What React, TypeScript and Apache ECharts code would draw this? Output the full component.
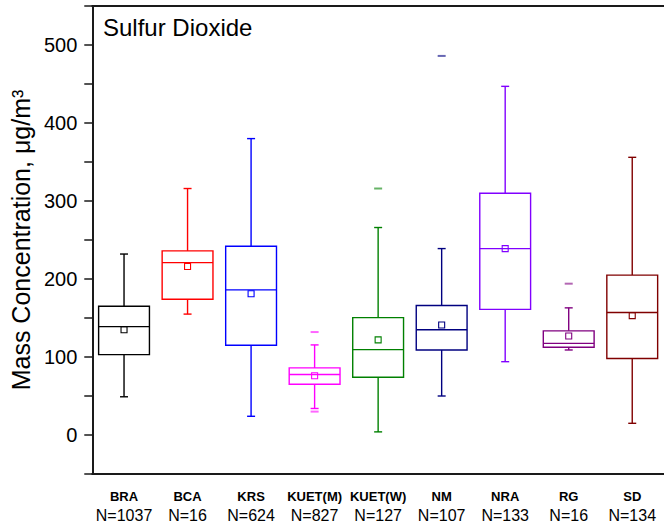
import React, { useEffect, useRef } from "react";
import * as echarts from "echarts";

const categories = ["BRA", "BCA", "KRS", "KUET(M)", "KUET(W)", "NM", "NRA", "RG", "SD"];
const sampleSizes = [1037, 16, 624, 827, 127, 107, 133, 16, 134];
const whiskerLow = [49, 155, 24, 34, 4, 50, 94, 109, 15];
const q1 = [103, 174, 115, 65, 74, 109, 161, 112.5, 98];
const median = [139, 221, 186, 77.5, 109.5, 135, 239, 117.5, 157];
const q3 = [165, 236, 242, 86, 150.5, 166, 310, 133.5, 205];
const whiskerHigh = [232, 316, 380, 115.5, 266, 239, 447, 163, 356];
const means = [135, 216, 181, 76, 122, 141, 239, 127, 153];
const outlierCategory = [3, 3, 4, 5, 7];
const outlierValue = [132, 30, 316, 486, 194];
const colors = ["#000000", "#ff0000", "#0000ff", "#ff00ff", "#008000", "#000080", "#8000ff", "#800080", "#800000"];

const FONT = "'Liberation Sans', Arial, sans-serif";

export default function App() {
  const ref = useRef<HTMLDivElement>(null);
  useEffect(() => {
    if (!ref.current) return;
    const chart = echarts.init(ref.current, null, { renderer: "svg" });
    const boxData = categories.map((_, i) => [i, whiskerLow[i], q1[i], median[i], q3[i], whiskerHigh[i], means[i]]);
    const outlierData = outlierCategory.map((c, k) => ({
      value: [c, outlierValue[k]],
      itemStyle: { color: colors[c], opacity: 0.6 },
    }));
    const option: any = {
      animation: false,
      textStyle: { fontFamily: FONT },
      title: {
        text: "Sulfur Dioxide",
        left: 98,
        top: 10,
        textStyle: { fontSize: 24, fontWeight: "normal", color: "#000", fontFamily: FONT },
      },
      grid: { left: 89, top: 6, width: 582, height: 468 },
      xAxis: [
        {
          type: "category",
          data: categories,
          position: "bottom",
          boundaryGap: true,
          axisLine: { onZero: false, lineStyle: { color: "#1a1a1a", width: 2 } },
          axisTick: { alignWithLabel: true, length: 8, inside: false, lineStyle: { color: "#1a1a1a", width: 1.5 } },
          splitLine: { show: false },
          axisLabel: {
            interval: 0,
            margin: 14,
            formatter: (v: string, idx: number) => `{a|${v}}\n{b|N=${sampleSizes[idx]}}`,
            rich: {
              a: { fontSize: 13, fontWeight: "bold", color: "#000", lineHeight: 16, fontFamily: FONT },
              b: { fontSize: 16, color: "#000", lineHeight: 22, fontFamily: FONT },
            },
          },
        },
        {
          type: "category",
          data: categories,
          position: "top",
          axisLine: { onZero: false, lineStyle: { color: "#1a1a1a", width: 2 } },
          axisTick: { show: false },
          axisLabel: { show: false },
          splitLine: { show: false },
        },
      ],
      yAxis: {
        type: "value",
        min: -50,
        max: 550,
        interval: 50,
        name: "Mass Concentration, μg/m³",
        nameLocation: "middle",
        nameGap: 51,
        nameTextStyle: { fontSize: 25, color: "#000", fontFamily: FONT },
        axisLine: { show: true, lineStyle: { color: "#1a1a1a", width: 2 } },
        axisTick: { show: true, length: 8, inside: false, lineStyle: { color: "#1a1a1a", width: 1.5 } },
        splitLine: { show: false },
        axisLabel: {
          margin: 15,
          fontSize: 20,
          color: "#000",
          fontFamily: FONT,
          formatter: (v: number) => (v >= 0 && v <= 500 && v % 100 === 0 ? String(v) : ""),
        },
      },
      series: [
        {
          type: "custom",
          xAxisIndex: 0,
          data: boxData,
          encode: { x: 0, y: [1, 2, 3, 4, 5, 6] },
          renderItem: (params: any, api: any) => {
            const i = api.value(0);
            const color = colors[params.dataIndex];
            const band = api.size([1, 0])[0];
            const bw = band * 0.8;
            const cap = 8;
            const pLow = api.coord([i, api.value(1)]);
            const pQ1 = api.coord([i, api.value(2)]);
            const pMed = api.coord([i, api.value(3)]);
            const pQ3 = api.coord([i, api.value(4)]);
            const pHigh = api.coord([i, api.value(5)]);
            const pMean = api.coord([i, api.value(6)]);
            const cx = pQ1[0];
            const ls = { stroke: color, lineWidth: 1.4, fill: "none" };
            return {
              type: "group",
              children: [
                { type: "line", shape: { x1: cx, y1: pHigh[1], x2: cx, y2: pQ3[1] }, style: ls },
                { type: "line", shape: { x1: cx, y1: pQ1[1], x2: cx, y2: pLow[1] }, style: ls },
                { type: "line", shape: { x1: cx - cap / 2, y1: pHigh[1], x2: cx + cap / 2, y2: pHigh[1] }, style: ls },
                { type: "line", shape: { x1: cx - cap / 2, y1: pLow[1], x2: cx + cap / 2, y2: pLow[1] }, style: ls },
                {
                  type: "rect",
                  shape: { x: cx - bw / 2, y: pQ3[1], width: bw, height: pQ1[1] - pQ3[1] },
                  style: { stroke: color, lineWidth: 1.4, fill: "none" },
                },
                { type: "line", shape: { x1: cx - bw / 2, y1: pMed[1], x2: cx + bw / 2, y2: pMed[1] }, style: ls },
                {
                  type: "rect",
                  shape: { x: cx - 3, y: pMean[1] - 3, width: 6, height: 6 },
                  style: { stroke: color, lineWidth: 1.1, fill: "none" },
                },
              ],
            };
          },
        },
        {
          type: "scatter",
          xAxisIndex: 0,
          symbol: "rect",
          symbolSize: [8, 2],
          data: outlierData,
        },
      ],
    };
    chart.setOption(option);
    return () => chart.dispose();
  }, []);
  return <div ref={ref} style={{ position: "absolute", left: 0, top: 0, width: 664, height: 528, background: "#fff" }} />;
}
